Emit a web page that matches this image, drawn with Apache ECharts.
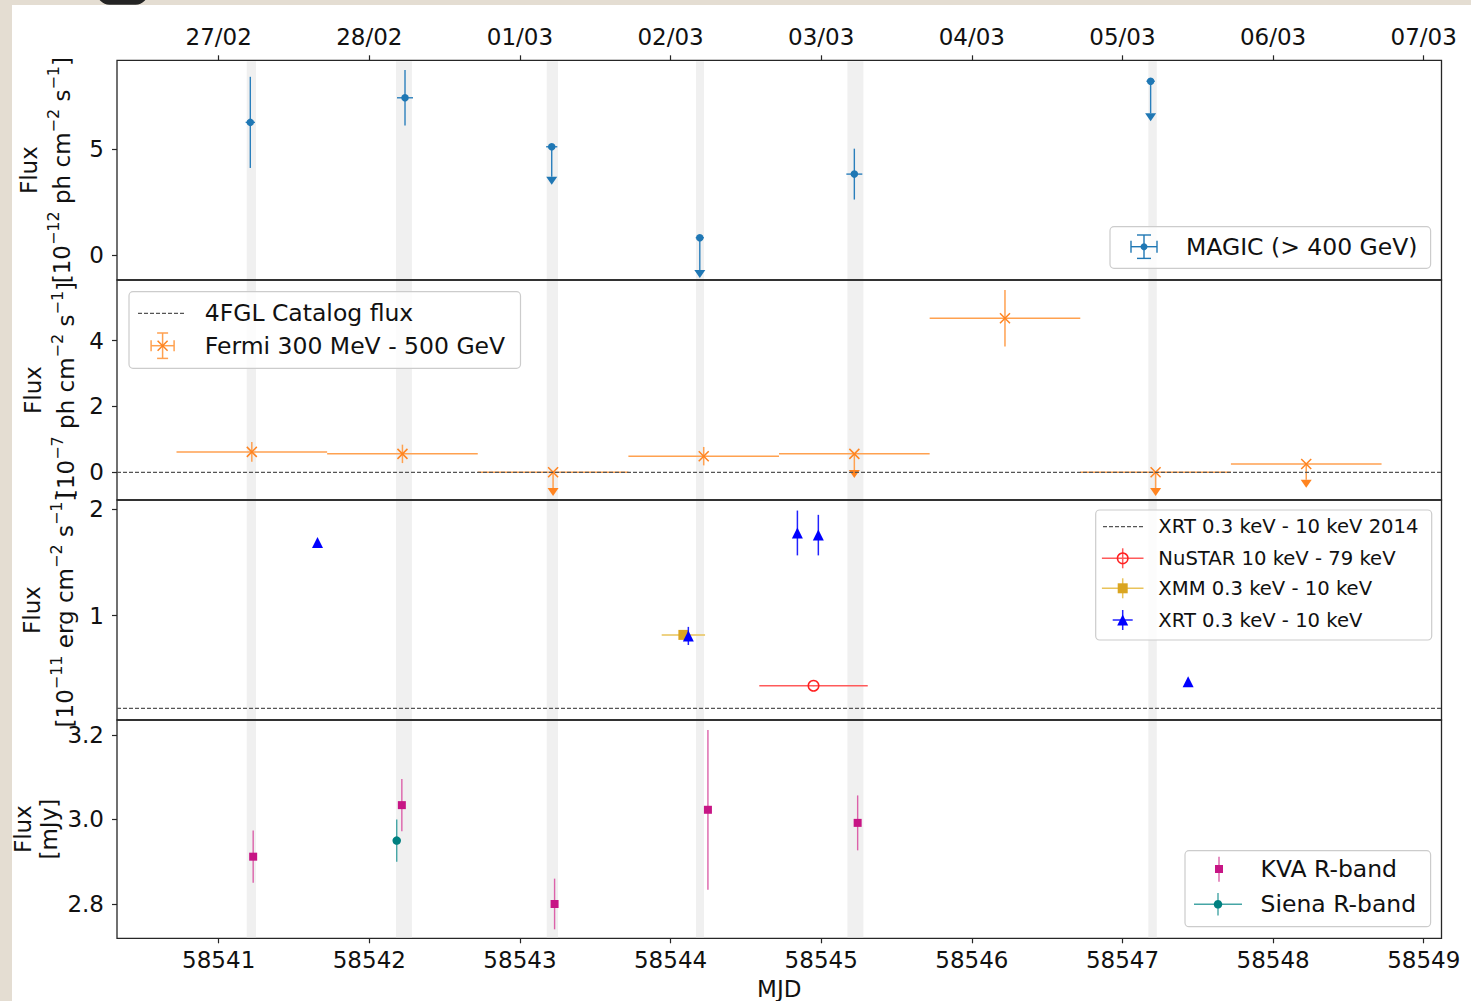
<!DOCTYPE html>
<html><head><meta charset="utf-8">
<script src="https://cdn.jsdelivr.net/npm/echarts@6/dist/echarts.min.js"></script>
<style>html,body{margin:0;padding:0;background:#fff;overflow:hidden}#c{width:1471px;height:1001px}</style>
</head><body><div id="c"></div>
<script>
// ---------------- data ----------------
const mjdTicks = [58541, 58542, 58543, 58544, 58545, 58546, 58547, 58548, 58549];
const dateLabels = ['27/02', '28/02', '01/03', '02/03', '03/03', '04/03', '05/03', '06/03', '07/03'];

// MAGIC observation windows (grey bands)
const windowStart = [58541.186, 58542.177, 58543.178, 58544.169, 58545.174, 58547.172];
const windowEnd   = [58541.248, 58542.283, 58543.253, 58544.222, 58545.280, 58547.228];

// MAGIC (> 400 GeV), 1e-12 ph cm-2 s-1
const magicMJD      = [58541.210, 58542.237, 58543.211, 58544.194, 58545.220, 58547.187];
const magicTimeErr  = [0.031, 0.053, 0.037, 0.027, 0.053, 0.028];
const magicFlux     = [6.27, 7.43, 5.12, 0.83, 3.83, 8.21];
const magicFluxErr  = [2.15, 1.31, 0, 0, 1.20, 0];
const magicULArrow  = [0, 0, 1.42, 1.52, 0, 1.51];

// Fermi 300 MeV - 500 GeV, 1e-7 ph cm-2 s-1
const fermiMJD      = [58541.22, 58542.22, 58543.22, 58544.22, 58545.22, 58546.22, 58547.22, 58548.22];
const fermiTimeErr  = [0.5, 0.5, 0.5, 0.5, 0.5, 0.5, 0.5, 0.5];
const fermiFlux     = [0.62, 0.56, 0.00, 0.49, 0.56, 4.68, 0.00, 0.25];
const fermiFluxErr  = [0.30, 0.28, 0, 0.28, 0, 0.86, 0, 0];
const fermiULArrow  = [0, 0, 0.48, 0, 0.49, 0, 0.48, 0.48];
const fourFGLFlux   = 0.0;

// X-ray, 1e-11 erg cm-2 s-1
const xrtMJD        = [58541.656, 58544.118, 58544.842, 58544.981, 58547.436];
const xrtFlux       = [1.686, 0.810, 1.775, 1.755, 0.381];
const xrtFluxErr    = [0.02, 0.085, 0.21, 0.19, 0.015];
const xmmMJD        = [58544.085];
const xmmTimeErr    = [0.144];
const xmmFlux       = [0.82];
const xmmFluxErr    = [0.01];
const nustarMJD     = [58544.949];
const nustarTimeErr = [0.36];
const nustarFlux    = [0.344];
const nustarFluxErr = [0.005];
const xrt2014Flux   = 0.132;

// Optical R-band, mJy
const kvaMJD        = [58541.229, 58542.216, 58543.230, 58544.248, 58545.242];
const kvaFlux       = [2.912, 3.034, 2.800, 3.023, 2.992];
const kvaFluxErr    = [0.062, 0.062, 0.060, 0.189, 0.065];
const sienaMJD      = [58542.182];
const sienaFlux     = [2.950];
const sienaFluxErr  = [0.050];

// ---------------- layout ----------------
const X_MIN = 58540.325, X_MAX = 58549.118;
const FONT = 'DejaVu Sans';
const TXT = '#111';
const gridTops = [60.3, 280, 500, 720];
const gridHeights = [219.7, 220, 220, 218.3];
const yMins = [-1.165, -0.842, 0.0225, 2.7188];
const yMaxs = [9.198, 5.845, 2.084, 3.2355];
const yTicks = [[0, 5], [0, 2, 4], [1, 2], [2.8, 3.0, 3.2]];

function rows(x, y, xe, ye, ul) {
  return x.map((v, i) => [v, y[i], xe ? xe[i] : 0, ye ? ye[i] : 0, ul ? ul[i] : 0]);
}

function markerEl(kind, cx, cy, size, color) {
  const h = size / 2;
  if (kind === 'circle') return {type: 'circle', shape: {cx, cy, r: h}, style: {fill: color}};
  if (kind === 'ocircle') return {type: 'circle', shape: {cx, cy, r: h}, style: {fill: 'none', stroke: color, lineWidth: 1.5}};
  if (kind === 'square') return {type: 'rect', shape: {x: cx - h, y: cy - h, width: size, height: size}, style: {fill: color}};
  if (kind === 'tri') return {type: 'polygon', shape: {points: [[cx, cy - h], [cx - h, cy + h], [cx + h, cy + h]]}, style: {fill: color}};
  if (kind === 'x') return {type: 'group', children: [
    {type: 'line', shape: {x1: cx - h, y1: cy - h, x2: cx + h, y2: cy + h}, style: {stroke: color, lineWidth: 1.5}},
    {type: 'line', shape: {x1: cx - h, y1: cy + h, x2: cx + h, y2: cy - h}, style: {stroke: color, lineWidth: 1.5}}
  ]};
  return null;
}

function errRender(st) {
  return function (params, api) {
    const x = api.value(0), y = api.value(1), xe = api.value(2), ye = api.value(3), ul = api.value(4);
    const c = api.coord([x, y]);
    const ls = {stroke: st.err, lineWidth: st.lw || 1.5};
    const ch = [];
    if (xe > 0) {
      const a = api.coord([x - xe, y]), b = api.coord([x + xe, y]);
      ch.push({type: 'line', shape: {x1: a[0], y1: a[1], x2: b[0], y2: b[1]}, style: ls});
    }
    if (ul > 0) {
      const b = api.coord([x, y - ul]);
      ch.push({type: 'line', shape: {x1: c[0], y1: c[1], x2: b[0], y2: b[1]}, style: ls});
      ch.push({type: 'polygon', shape: {points: [[b[0] - 5.5, b[1]], [b[0] + 5.5, b[1]], [b[0], b[1] + 8]]}, style: {fill: st.color}});
    } else if (ye > 0) {
      const a = api.coord([x, y - ye]), b = api.coord([x, y + ye]);
      ch.push({type: 'line', shape: {x1: a[0], y1: a[1], x2: b[0], y2: b[1]}, style: ls});
    }
    ch.push(markerEl(st.marker, c[0], c[1], st.size, st.color));
    return {type: 'group', children: ch};
  };
}

function errSeries(name, gi, data, st, z) {
  return {type: 'custom', name, xAxisIndex: gi, yAxisIndex: gi, z: z || 3, silent: true,
          data, encode: {x: 0, y: 1}, clip: false, renderItem: errRender(st)};
}

function bandSeries(gi) {
  return {type: 'custom', xAxisIndex: gi, yAxisIndex: gi, z: 1, silent: true,
    data: windowStart.map((s, i) => [s, windowEnd[i]]), encode: {x: [0, 1]},
    renderItem: function (params, api) {
      const cs = params.coordSys;
      const a = api.coord([api.value(0), yMins[gi]])[0];
      const b = api.coord([api.value(1), yMins[gi]])[0];
      return {type: 'rect', shape: {x: a, y: cs.y + 1, width: b - a, height: cs.height - 2}, style: {fill: '#f0f0f0'}};
    }};
}

function refLine(gi, v) {
  return {type: 'line', xAxisIndex: gi, yAxisIndex: gi, z: 4, silent: true, showSymbol: false, symbol: 'none',
    data: [[X_MIN, v], [X_MAX, v]], lineStyle: {color: '#555', width: 1.2, type: [4, 2]}};
}

// ---------------- axes ----------------
const grids = gridTops.map((t, i) => ({left: 117, width: 1324.5, top: t, height: gridHeights[i], show: true,
  borderColor: '#262626', borderWidth: 1.3, backgroundColor: 'transparent', containLabel: false, outerBoundsMode: 'none'}));

const tickStyle = {show: true, inside: false, length: 5, lineStyle: {color: '#262626', width: 1.2}};
const xAxes = [0, 1, 2, 3].map(i => {
  const ax = {type: 'value', gridIndex: i, min: X_MIN, max: X_MAX, splitLine: {show: false},
    axisLine: {show: false, onZero: false}};
  if (i === 0) {
    ax.position = 'top';
    ax.axisTick = Object.assign({customValues: mjdTicks}, tickStyle);
    ax.axisLabel = {customValues: mjdTicks, fontSize: 23, lineHeight: 23, fontFamily: FONT, color: TXT, margin: 12,
      formatter: v => dateLabels[mjdTicks.indexOf(Math.round(v))]};
  } else if (i === 3) {
    ax.position = 'bottom';
    ax.axisTick = Object.assign({customValues: mjdTicks}, tickStyle);
    ax.axisLabel = {customValues: mjdTicks, fontSize: 23, lineHeight: 23, fontFamily: FONT, color: TXT, margin: 10,
      formatter: v => String(Math.round(v))};
    ax.name = 'MJD'; ax.nameLocation = 'middle'; ax.nameGap = 39;
    ax.nameTextStyle = {fontSize: 23, lineHeight: 23, fontFamily: FONT, color: TXT};
  } else {
    ax.axisTick = {show: false}; ax.axisLabel = {show: false};
  }
  return ax;
});

const supRich = {s: {fontSize: 16, lineHeight: 16, verticalAlign: 'top', fontFamily: FONT, color: TXT}};
const yNames = [
  'Flux\n[10{s|−12} ph cm{s|−2} s{s|−1}]',
  'Flux\n[10{s|−7} ph cm{s|−2} s{s|−1}]',
  'Flux\n[10{s|−11} erg cm{s|−2} s{s|−1}]',
  'Flux\n[mJy]'
];
const yNameGaps = [38.5, 34.5, 36, 55];
const yLineH = [33, 33, 33, 26];
const yAxes = [0, 1, 2, 3].map(i => ({
  type: 'value', gridIndex: i, min: yMins[i], max: yMaxs[i], position: 'left',
  splitLine: {show: false}, axisLine: {show: false, onZero: false},
  axisTick: Object.assign({customValues: yTicks[i]}, tickStyle),
  axisLabel: {customValues: yTicks[i], fontSize: 23, fontFamily: FONT, color: TXT, margin: 13,
    formatter: v => i === 3 ? v.toFixed(1) : String(Math.round(v))},
  name: yNames[i], nameLocation: 'middle', nameRotate: 90, nameGap: yNameGaps[i], nameMoveOverlap: false,
  nameTextStyle: {fontSize: 23, lineHeight: yLineH[i], fontFamily: FONT, color: TXT, rich: supRich}
}));

// ---------------- series ----------------
const series = [
  bandSeries(0), bandSeries(1), bandSeries(2), bandSeries(3),
  errSeries('MAGIC (> 400 GeV)', 0, rows(magicMJD, magicFlux, magicTimeErr, magicFluxErr, magicULArrow),
    {err: '#2a7fbc', color: '#1f77b4', marker: 'circle', size: 7.5, lw: 1.4}),
  errSeries('Fermi 300 MeV - 500 GeV', 1, rows(fermiMJD, fermiFlux, fermiTimeErr, fermiFluxErr, fermiULArrow),
    {err: '#ffa150', color: '#ff8420', marker: 'x', size: 10, lw: 1.5}, 2),
  refLine(1, fourFGLFlux),
  refLine(2, xrt2014Flux),
  errSeries('NuSTAR 10 keV - 79 keV', 2, rows(nustarMJD, nustarFlux, nustarTimeErr, nustarFluxErr),
    {err: '#ff5a5a', color: '#ff2020', marker: 'ocircle', size: 10.5, lw: 1.5}),
  errSeries('XMM 0.3 keV - 10 keV', 2, rows(xmmMJD, xmmFlux, xmmTimeErr, xmmFluxErr),
    {err: '#e9c35a', color: '#daa520', marker: 'square', size: 10, lw: 1.5}),
  errSeries('XRT 0.3 keV - 10 keV', 2, rows(xrtMJD, xrtFlux, null, xrtFluxErr),
    {err: '#2222ff', color: '#0000ff', marker: 'tri', size: 11, lw: 1.5}),
  errSeries('Siena R-band', 3, rows(sienaMJD, sienaFlux, null, sienaFluxErr),
    {err: '#45a5a5', color: '#008080', marker: 'circle', size: 8.5, lw: 1.4}),
  errSeries('KVA R-band', 3, rows(kvaMJD, kvaFlux, null, kvaFluxErr),
    {err: '#dc62aa', color: '#c71585', marker: 'square', size: 8, lw: 1.4})
];

// ---------------- legends & frame (graphic) ----------------
function box(x, y, w, h) {
  return {type: 'rect', shape: {x, y, width: w, height: h, r: 4}, style: {fill: 'rgba(255,255,255,0.8)', stroke: '#cccccc', lineWidth: 1.2}};
}
function txt(x, y, t, size) {
  return {type: 'text', x, y, style: {text: t, fontSize: size, fontFamily: FONT, fill: TXT, align: 'left', verticalAlign: 'middle'}};
}
function ln(x1, y1, x2, y2, color, w, dash) {
  const s = {stroke: color, lineWidth: w || 1.5};
  if (dash) s.lineDash = dash;
  return {type: 'line', shape: {x1, y1, x2, y2}, style: s};
}
function errIcon(cx, cy, hw, hh, capW, capH, errColor, lw) {
  const a = [ln(cx - hw, cy, cx + hw, cy, errColor, lw), ln(cx, cy - hh, cx, cy + hh, errColor, lw)];
  if (capW) { a.push(ln(cx - capW, cy - hh, cx + capW, cy - hh, errColor, lw)); a.push(ln(cx - capW, cy + hh, cx + capW, cy + hh, errColor, lw)); }
  if (capH) { a.push(ln(cx - hw, cy - capH, cx - hw, cy + capH, errColor, lw)); a.push(ln(cx + hw, cy - capH, cx + hw, cy + capH, errColor, lw)); }
  return a;
}
function setZ(el, z) {
  el.z = z;
  if (el.children) el.children.forEach(c => setZ(c, z));
  return el;
}

const legendEls = [].concat(
  // MAGIC
  [box(1110, 226.7, 320.6, 41.6)],
  errIcon(1144, 246.7, 13, 11.7, 7, 6, '#1f77b4', 1.4),
  [markerEl('circle', 1144, 246.7, 7, '#1f77b4'), txt(1186, 246.7, 'MAGIC (> 400 GeV)', 23.5)],
  // Fermi
  [box(129, 291.7, 391.5, 76.6), ln(138, 313.3, 185.6, 313.3, '#555', 1.2, [4, 2]), txt(204.7, 313.3, '4FGL Catalog flux', 23.5)],
  errIcon(162.6, 345.7, 11.5, 12.7, 5.5, 5.5, '#ffa150', 1.5),
  [markerEl('x', 162.6, 345.7, 10, '#ff8420'), txt(204.7, 345.7, 'Fermi 300 MeV - 500 GeV', 23.5)],
  // X-ray
  [box(1095.7, 510, 336, 130), ln(1103, 526.7, 1143, 526.7, '#555', 1.2, [4, 2]), txt(1158.3, 526.7, 'XRT 0.3 keV - 10 keV 2014', 19.6)],
  errIcon(1122.7, 558.3, 20.8, 10, 0, 0, '#ff5a5a', 1.5),
  [markerEl('ocircle', 1122.7, 558.3, 10.5, '#ff2020'), txt(1158.3, 558.3, 'NuSTAR 10 keV - 79 keV', 19.6)],
  errIcon(1122.7, 588.3, 20.8, 10, 0, 0, '#e9c35a', 1.5),
  [markerEl('square', 1122.7, 588.3, 10, '#daa520'), txt(1158.3, 588.3, 'XMM 0.3 keV - 10 keV', 19.6)],
  errIcon(1122.7, 620, 10, 10, 0, 0, '#2222ff', 1.5),
  [markerEl('tri', 1122.7, 620, 11, '#0000ff'), txt(1158.3, 620, 'XRT 0.3 keV - 10 keV', 19.6)],
  // Optical
  [box(1185, 850.7, 245.6, 76), ln(1219, 856.7, 1219, 881.7, '#dc62aa', 1.4),
   markerEl('square', 1219, 869, 8, '#c71585'), txt(1260.5, 869, 'KVA R-band', 23.5)],
  errIcon(1218, 904.3, 24, 11.3, 0, 0, '#45a5a5', 1.4),
  [markerEl('circle', 1218, 904.3, 8.5, '#008080'), txt(1260.5, 904.3, 'Siena R-band', 23.5)]
).map(e => setZ(e, 50));

const frameEls = [
  {type: 'rect', shape: {x: 0, y: 0, width: 1471, height: 5}, style: {fill: '#e4ddd2'}},
  {type: 'rect', shape: {x: 0, y: 0, width: 12, height: 1001}, style: {fill: '#e4ddd2'}},
  {type: 'rect', shape: {x: 97, y: -20, width: 51, height: 24.7, r: 13}, style: {fill: '#242424'}}
].map(e => setZ(e, 100));

const chart = echarts.init(document.getElementById('c'), null, {renderer: 'svg', width: 1471, height: 1001});
chart.setOption({
  animation: false,
  backgroundColor: '#ffffff',
  grid: grids,
  xAxis: xAxes,
  yAxis: yAxes,
  series: series,
  graphic: {elements: frameEls.concat(legendEls)}
});
</script>
</body></html>
